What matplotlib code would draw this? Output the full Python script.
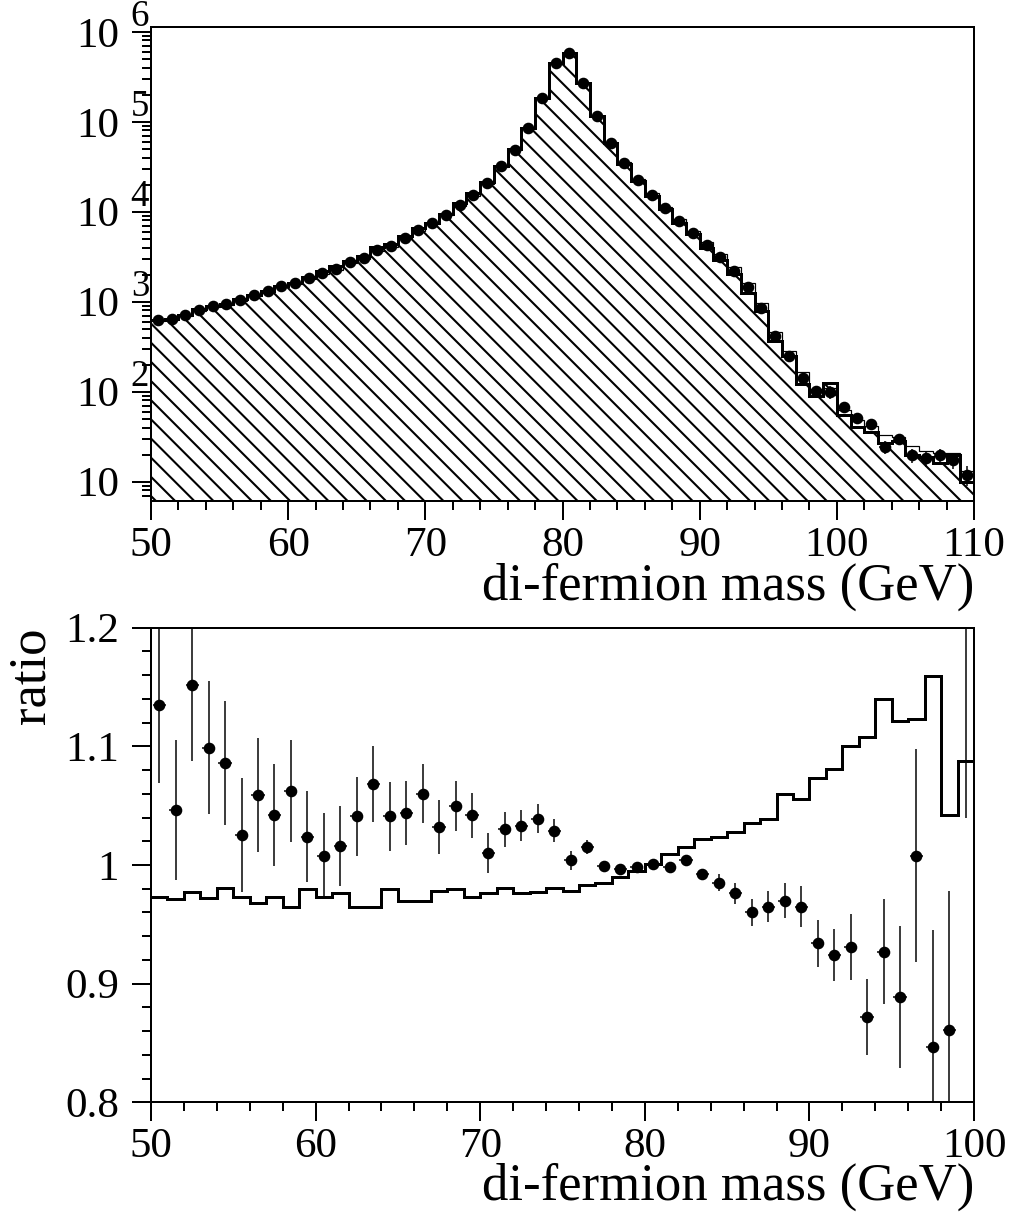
import numpy as np
import matplotlib
matplotlib.use("Agg")
import matplotlib.pyplot as plt
from matplotlib.ticker import MultipleLocator, FixedLocator, LogLocator, NullFormatter, FixedFormatter

plt.rcParams['font.family'] = 'Liberation Serif'
plt.rcParams['hatch.linewidth'] = 1.3

# 1 GeV bins, 50-110 GeV in the spectrum, 50-100 GeV in the ratio
edges_top = np.arange(50, 111)
edges_ratio = np.arange(50, 101)

data_counts = [620, 642, 705, 815, 887, 943, 1053, 1175, 1301, 1506,
               1614, 1834, 2084, 2327, 2735, 3062, 3784, 4190, 5103, 6310,
               7490, 9260, 11960, 15450, 20830, 31850, 48860, 85100, 183400, 448500,
               579600, 269000, 114500, 57900, 34750, 22300, 15450, 10990, 7800, 5800,
               4266, 3162, 2208, 1445, 845, 416, 249, 143, 103, 100,
               67, 51, 44, 24.5, 30, 19.8, 18.2, 19.8, 17.4, 11.9]
data_err = [36, 36, 39, 42, 43, 44, 48, 48, 53, 56,
            58, 61, 66, 70, 76, 79, 89, 93, 102, 115,
            126, 135, 150, 178, 202, 254, 289, 341, 552, 899,
            1158, 809, 342, 292, 247, 206, 177, 148, 121, 102,
            91, 75, 66, 53, 40, 28, 22, 17, 14, 17,
            6, 5, 5, 4, 4, 3.5, 3.5, 3.5, 3.5, 3]

mc_hatched = [625, 640, 710, 820, 890, 950, 1060, 1180, 1310, 1510,
              1627, 1863, 2169, 2485, 2847, 3197, 4011, 4324, 5358, 6575,
              7565, 9538, 12355, 16053, 21434, 31977, 49593, 85015, 182850, 447600,
              580180, 268460, 114960, 57437, 34229, 21765, 14832, 10605, 7566, 5597,
              3984, 2922, 2056, 1260, 783, 370, 251, 121, 89, 125,
              55, 41, 36, 27, 28, 20, 19, 16, 20, 10]
mc_open = [603, 623, 689, 792, 870, 918, 1019, 1143, 1255, 1476,
           1570, 1790, 2011, 2246, 2680, 2970, 3670, 4098, 5001, 6140,
           7310, 9084, 11673, 15095, 20434, 31149, 48029, 83824, 181566, 446258,
           580180, 271421, 116218, 59174, 35584, 22924, 15991, 11419, 8268, 6125,
           4577, 3418, 2429, 1601, 963, 466, 280, 166, 107, 109,
           62, 48, 42, 33, 31, 25, 22, 21, 21, 13]

ratio_points = [1.135, 1.046, 1.152, 1.099, 1.086, 1.025, 1.059, 1.042, 1.062, 1.024,
                1.008, 1.016, 1.041, 1.068, 1.041, 1.044, 1.060, 1.032, 1.050, 1.042,
                1.010, 1.030, 1.033, 1.039, 1.029, 1.004, 1.015, 0.999, 0.997, 0.998,
                1.001, 0.998, 1.004, 0.992, 0.985, 0.976, 0.960, 0.965, 0.970, 0.965,
                0.934, 0.924, 0.931, 0.872, 0.927, 0.889, 1.008, 0.847, 0.861, 1.25]
ratio_err = [0.066, 0.059, 0.064, 0.056, 0.052, 0.048, 0.048, 0.043, 0.043, 0.038,
             0.036, 0.034, 0.033, 0.032, 0.029, 0.027, 0.025, 0.023, 0.021, 0.019,
             0.017, 0.015, 0.013, 0.012, 0.010, 0.008, 0.006, 0.004, 0.003, 0.002,
             0.002, 0.003, 0.003, 0.005, 0.007, 0.009, 0.011, 0.013, 0.015, 0.017,
             0.020, 0.022, 0.028, 0.032, 0.044, 0.060, 0.090, 0.098, 0.117, 0.21]
ratio_mc = [0.973, 0.971, 0.977, 0.972, 0.981, 0.973, 0.968, 0.973, 0.965, 0.980,
            0.973, 0.976, 0.965, 0.965, 0.980, 0.970, 0.970, 0.978, 0.980, 0.973,
            0.976, 0.981, 0.976, 0.977, 0.981, 0.978, 0.983, 0.985, 0.990, 0.995,
            1.001, 1.009, 1.015, 1.022, 1.024, 1.028, 1.035, 1.039, 1.060, 1.056,
            1.073, 1.081, 1.100, 1.108, 1.140, 1.121, 1.123, 1.159, 1.042, 1.088]

centers_top = 0.5 * (edges_top[:-1] + edges_top[1:])
centers_ratio = 0.5 * (edges_ratio[:-1] + edges_ratio[1:])

DPI = 115
px = 72.0 / DPI  # one pixel in points
fig = plt.figure(figsize=(1012 / DPI, 1216 / DPI), dpi=DPI)
ax1 = fig.add_axes([0.1492, 0.5880, 0.8133, 0.3898])
ax2 = fig.add_axes([0.1492, 0.0935, 0.8133, 0.3903])

tick_fs = 27
label_fs = 33

for ax in (ax1, ax2):
    for sp in ax.spines.values():
        sp.set_linewidth(2 * px)
    ax.tick_params(which='both', direction='out', top=False, right=False,
                   width=2 * px, labelsize=tick_fs)
    ax.tick_params(which='major', length=19 * px)
    ax.tick_params(which='minor', length=9 * px)
    ax.tick_params(axis='x', which='major', pad=4)
    ax.tick_params(axis='y', which='major', pad=8)

# upper panel: mass spectrum
ax1.stairs(mc_hatched, edges_top, baseline=1, fill=True, facecolor='none',
           edgecolor='black', hatch='\\\\', linewidth=0)
ax1.stairs(mc_open, edges_top, baseline=None, color='black', linewidth=1.2 * px)
ax1.stairs(mc_hatched, edges_top, baseline=None, color='black', linewidth=3 * px)
ax1.errorbar(centers_top, data_counts, yerr=data_err, xerr=0.4, fmt='o',
             color='black', ms=10 * px, elinewidth=1.5 * px, capsize=0)

ax1.set_yscale('log')
ax1.set_xlim(50, 110)
ax1.set_ylim(6.1, 1.13e6)
ax1.xaxis.set_major_locator(MultipleLocator(10))
ax1.xaxis.set_minor_locator(MultipleLocator(2))
decades = [10, 1e2, 1e3, 1e4, 1e5, 1e6]
ax1.yaxis.set_major_locator(FixedLocator(decades))
ax1.yaxis.set_major_formatter(FixedFormatter(['10'] * len(decades)))
ax1.yaxis.set_minor_locator(LogLocator(base=10, subs=np.arange(2, 10), numticks=20))
ax1.yaxis.set_minor_formatter(NullFormatter())
for e in range(2, 7):
    ax1.annotate(str(e), xy=(0, 10.0 ** e), xycoords=ax1.get_yaxis_transform(),
                 xytext=(-11 * px, 15 * px), textcoords='offset points',
                 ha='center', va='center', fontsize=23, annotation_clip=False)

ax1.text(1.0, -0.2089, 'di-fermion mass (GeV)', transform=ax1.transAxes,
         ha='right', va='baseline', fontsize=label_fs)

# lower panel: ratios
ax2.stairs(ratio_mc, edges_ratio, baseline=None, color='black', linewidth=3 * px)
ax2.errorbar(centers_ratio, ratio_points, yerr=ratio_err, xerr=0.4, fmt='o',
             color='black', ms=10 * px, elinewidth=1.5 * px, capsize=0)
ax2.set_xlim(50, 100)
ax2.set_ylim(0.8, 1.2)
ax2.xaxis.set_major_locator(MultipleLocator(10))
ax2.xaxis.set_minor_locator(MultipleLocator(2))
ratio_ticks = [0.8, 0.9, 1.0, 1.1, 1.2]
ax2.yaxis.set_major_locator(FixedLocator(ratio_ticks))
ax2.yaxis.set_major_formatter(FixedFormatter(['0.8', '0.9', '1', '1.1', '1.2']))
ax2.yaxis.set_minor_locator(MultipleLocator(0.02))

ax2.text(1.0, -0.2059, 'di-fermion mass (GeV)', transform=ax2.transAxes,
         ha='right', va='baseline', fontsize=label_fs)
ax2.text(-0.1446, 1.0, 'ratio', transform=ax2.transAxes, rotation=90,
         ha='center', va='top', fontsize=label_fs)

fig.savefig('out.png', dpi=DPI)
